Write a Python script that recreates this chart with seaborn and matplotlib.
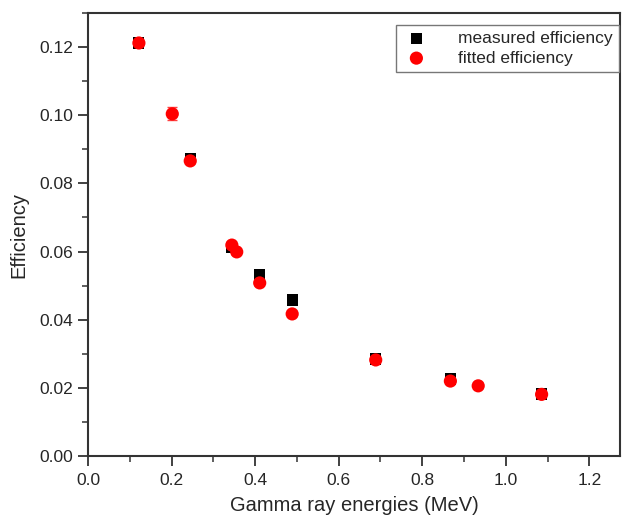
import numpy as np
import pandas as pd
import seaborn as sns
import matplotlib.pyplot as plt
from matplotlib.ticker import MultipleLocator

# measured efficiency (black squares)
meas_energy = [0.1218, 0.2447, 0.3443, 0.4110, 0.4887, 0.6887, 0.8674, 1.0858]
meas_eff = [0.1212, 0.0874, 0.0613, 0.0531, 0.0458, 0.0285, 0.0226, 0.0182]

# fitted efficiency (red circles)
fit_energy = [0.1218, 0.2017, 0.2447, 0.3443, 0.3560, 0.4110, 0.4887, 0.6887, 0.8674, 0.9340, 1.0858]
fit_eff = [0.1212, 0.1004, 0.0866, 0.0619, 0.0599, 0.0508, 0.0417, 0.0282, 0.0220, 0.0206, 0.0181]
fit_err = [0.0007, 0.0019, 0.0005, 0.0004, 0.0004, 0.0003, 0.0003, 0.0002, 0.0002, 0.0002, 0.0002]

meas = pd.DataFrame({"energy": meas_energy, "eff": meas_eff})
fit = pd.DataFrame({"energy": fit_energy, "eff": fit_eff, "err": fit_err})

sns.set_style("ticks")
plt.rcParams["font.family"] = ["Liberation Sans", "DejaVu Sans"]

fig = plt.figure(figsize=(6.22, 5.2), dpi=100)
ax = fig.add_axes([0.1415, 0.123, 0.855, 0.852])

sns.scatterplot(data=meas, x="energy", y="eff", marker="s", s=65, color="black",
                edgecolor="none", label="measured efficiency", ax=ax, zorder=3)
ax.errorbar(fit["energy"], fit["eff"], yerr=fit["err"], fmt="none", ecolor="#ff4040",
            elinewidth=1, capsize=3.5, zorder=3.5)
sns.scatterplot(data=fit, x="energy", y="eff", marker="o", s=90, color="red",
                edgecolor="none", label="fitted efficiency", ax=ax, zorder=4)

ax.set_xlim(0, 1.273)
ax.set_ylim(0, 0.130)
ax.xaxis.set_major_locator(MultipleLocator(0.2))
ax.xaxis.set_minor_locator(MultipleLocator(0.1))
ax.yaxis.set_major_locator(MultipleLocator(0.02))
ax.yaxis.set_minor_locator(MultipleLocator(0.01))
ax.xaxis.set_major_formatter(plt.FormatStrFormatter("%.1f"))
ax.yaxis.set_major_formatter(plt.FormatStrFormatter("%.2f"))
ax.tick_params(which="major", direction="out", length=7, width=1.3, labelsize=12.5, color="#333333")
ax.tick_params(which="minor", direction="out", length=4, width=1.1, color="#333333")
ax.tick_params(axis="x", pad=5)

for sp in ax.spines.values():
    sp.set_visible(True)
    sp.set_linewidth(1.5)
    sp.set_color("#333333")

ax.set_xlabel("Gamma ray energies (MeV)", fontsize=14.5, labelpad=6)
ax.set_ylabel("Efficiency", fontsize=14.5, labelpad=8)

leg = ax.legend(loc="upper right", bbox_to_anchor=(0.998, 0.973), borderaxespad=0,
                fancybox=False, framealpha=1, edgecolor="#777777", fontsize=12.5,
                handletextpad=1.6, borderpad=0.35, labelspacing=0.25, markerscale=1.0,
                handlelength=1.6)
leg.get_frame().set_linewidth(1.0)

fig.savefig("out.png", dpi=100)
